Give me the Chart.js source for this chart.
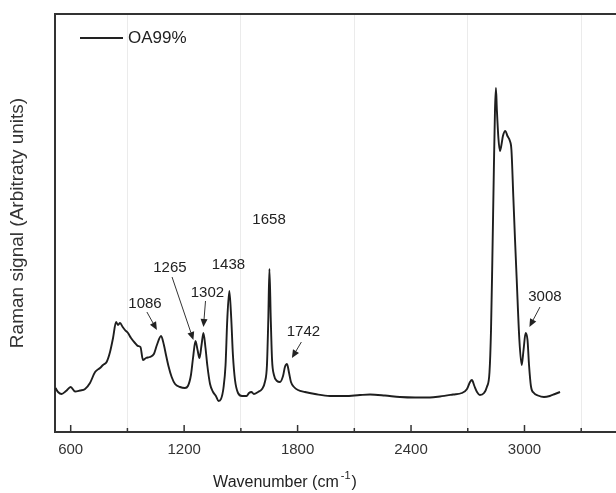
<!DOCTYPE html>
<html><head><meta charset="utf-8">
<script src="https://cdn.jsdelivr.net/npm/chart.js@4.4.0/dist/chart.umd.min.js"></script>
<style>html,body{margin:0;padding:0;background:#fff;}#wrap{width:616px;height:493px;position:relative;}</style>
</head><body><div id="wrap"><canvas id="c"></canvas></div>
<script>
const seriesName = 'OA99%';
const wavenumber = [520,533,552,575,600,623,649,676,702,729,755,771,790,808,824,840,850,861,875,887,903,919,940,956,969,982,998,1019,1040,1056,1078,1093,1104,1117,1134,1152,1178,1204,1220,1236,1247,1260,1271,1281,1292,1302,1313,1323,1337,1353,1368,1382,1395,1408,1419,1428,1439,1449,1458,1469,1485,1506,1530,1543,1556,1569,1591,1612,1627,1638,1645,1651,1658,1665,1675,1691,1707,1723,1733,1744,1755,1765,1781,1802,1839,1892,1971,2051,2130,2183,2262,2341,2421,2500,2553,2622,2669,2696,2712,2722,2735,2749,2764,2786,2801,2815,2823,2830,2838,2844,2849,2854,2862,2870,2878,2886,2899,2910,2923,2931,2941,2950,2959,2973,2985,2995,3006,3016,3024,3034,3050,3071,3103,3134,3161,3188];
const intensity = [44,40,38,41,45,40.5,41.5,43,49,60,64,67,70,80,94,110,107,109,105,102,99,94,89,86,85,72,74,75,78,87,96,87,77,66,55,48,45,44,46,57,74,91,82,74,87,99,84,66,48,40,36,31,33,44,67,112,141,114,77,52,39,36,36,39,40,38,40,43,50,67,112,163,114,72,57,51,50,56,65,68,59,50,45,42,40,38,36,36,37,37.5,36.5,35,34.5,34.5,35.5,37.5,39,43,50,52,46,40,37,39,45,60,102,172,262,322,344,322,294,281,287,296,301,296,291,282,235,192,152,92,67,82,99,92,67,46,39,36.5,35,36,38,40];
const majorTicks = [600,1200,1800,2400,3000];
const minorTicks = [900,1500,2100,2700,3300];
const peakLabels = ['1086','1265','1302','1438','1658','1742','3008'];

// annotation placement (data coordinates), kept separate from the data
const annotationLayout = [
  {tx:993,  ty:128, arrow:[1003,120,1056,102]},
  {tx:1125, ty:164, arrow:[1136,155,1249,92]},
  {tx:1323, ty:139, arrow:[1313,131,1302,105]},
  {tx:1434, ty:167, arrow:null},
  {tx:1649, ty:212, arrow:null},
  {tx:1831, ty:100, arrow:[1820,90,1770,74]},
  {tx:3108, ty:135, arrow:[3082,125,3026,105]}
];

const points = wavenumber.map((w,i)=>({x:w,y:intensity[i]}));
const FONT = '"Liberation Sans", Arial, sans-serif';

const extras = {
  id:'extras',
  afterDraw(chart){
    const ctx = chart.ctx, a = chart.chartArea, xs = chart.scales.x, ys = chart.scales.y;
    ctx.save();
    ctx.strokeStyle='#333'; ctx.lineWidth=2;
    ctx.beginPath(); ctx.moveTo(a.left-1,a.top); ctx.lineTo(a.right,a.top); ctx.stroke();
    ctx.lineWidth=1.5;
    majorTicks.forEach(v=>{const p=xs.getPixelForValue(v);ctx.beginPath();ctx.moveTo(p,a.bottom);ctx.lineTo(p,a.bottom-7);ctx.stroke();});
    minorTicks.forEach(v=>{const p=xs.getPixelForValue(v);ctx.beginPath();ctx.moveTo(p,a.bottom);ctx.lineTo(p,a.bottom-4);ctx.stroke();});
    // legend
    ctx.strokeStyle='#222'; ctx.lineWidth=1.8;
    ctx.beginPath(); ctx.moveTo(a.left+25,a.top+24); ctx.lineTo(a.left+68,a.top+24); ctx.stroke();
    ctx.fillStyle='#222'; ctx.font='17px '+FONT;
    ctx.textAlign='left'; ctx.textBaseline='middle';
    ctx.fillText(chart.data.datasets[0].label, a.left+73, a.top+24);
    // peak annotations
    ctx.font='15px '+FONT; ctx.textAlign='center';
    ctx.fillStyle='#222'; ctx.strokeStyle='#333'; ctx.lineWidth=1;
    peakLabels.forEach((t,i)=>{
      const L=annotationLayout[i];
      ctx.fillText(t, xs.getPixelForValue(L.tx), ys.getPixelForValue(L.ty));
      if(L.arrow){
        const x0=xs.getPixelForValue(L.arrow[0]), y0=ys.getPixelForValue(L.arrow[1]);
        const x1=xs.getPixelForValue(L.arrow[2]), y1=ys.getPixelForValue(L.arrow[3]);
        const ang=Math.atan2(y1-y0,x1-x0), hl=8, hw=3.5;
        const bx=x1-hl*Math.cos(ang), by=y1-hl*Math.sin(ang);
        ctx.beginPath(); ctx.moveTo(x0,y0); ctx.lineTo(bx,by); ctx.stroke();
        ctx.beginPath(); ctx.moveTo(x1,y1);
        ctx.lineTo(bx+hw*Math.sin(ang), by-hw*Math.cos(ang));
        ctx.lineTo(bx-hw*Math.sin(ang), by+hw*Math.cos(ang));
        ctx.closePath(); ctx.fill();
      }
    });
    // x axis title with superscript
    const f1='16px '+FONT, f2='11px '+FONT;
    const s1='Wavenumber (cm', s2='-1', s3=')';
    ctx.font=f1; const w1=ctx.measureText(s1).width, w3=ctx.measureText(s3).width;
    ctx.font=f2; const w2=ctx.measureText(s2).width+3;
    const cx=a.left+230, cy=483, x0=cx-(w1+w2+w3)/2;
    ctx.textAlign='left'; ctx.textBaseline='middle'; ctx.fillStyle='#222';
    ctx.font=f1; ctx.fillText(s1,x0,cy);
    ctx.font=f2; ctx.fillText(s2,x0+w1+2,cy-7);
    ctx.font=f1; ctx.fillText(s3,x0+w1+w2,cy);
    ctx.restore();
  }
};

new Chart(document.getElementById('c'),{
  type:'line',
  data:{datasets:[{label:seriesName,data:points,borderColor:'#1e1e1e',borderWidth:1.9,pointRadius:0,fill:false,cubicInterpolationMode:'monotone'}]},
  options:{
    responsive:true, maintainAspectRatio:false, animation:false, devicePixelRatio:1,
    layout:{padding:{top:14,right:0,left:0,bottom:0}},
    plugins:{legend:{display:false},tooltip:{enabled:false}},
    scales:{
      x:{type:'linear',position:'bottom',min:517,max:3484,
        afterBuildTicks:s=>{s.ticks=[...majorTicks,...minorTicks].sort((p,q)=>p-q).map(v=>({value:v}));},
        afterFit:s=>{s.height=61;},
        ticks:{autoSkip:false,maxRotation:0,padding:9,color:'#333',font:{size:15,family:FONT},
          callback:v=>majorTicks.includes(v)?String(v):''},
        grid:{drawTicks:false,lineWidth:1,color:c=>(c.tick&&minorTicks.includes(c.tick.value))?'#ebebeb':'rgba(0,0,0,0)'},
        border:{display:true,color:'#333',width:2}
      },
      y:{min:0,max:418,
        afterFit:s=>{s.width=55;},
        ticks:{display:false},
        grid:{display:false,drawTicks:false},
        border:{display:true,color:'#333',width:2},
        title:{display:true,text:'Raman signal (Arbitraty units)',color:'#333',padding:{top:6,bottom:0},
          font:{size:19,family:FONT}}
      }
    }
  },
  plugins:[extras]
});
</script></body></html>
